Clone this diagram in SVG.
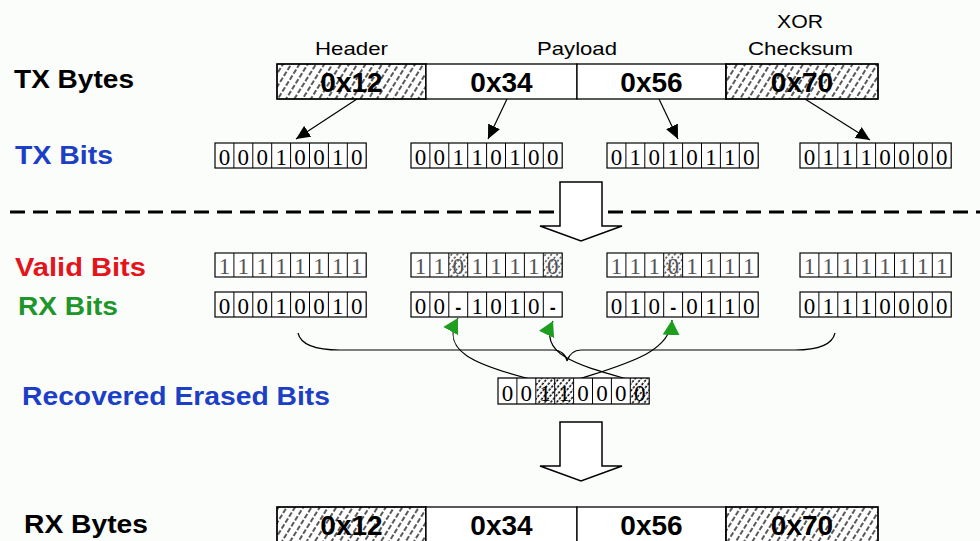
<svg xmlns="http://www.w3.org/2000/svg" xmlns:xlink="http://www.w3.org/1999/xlink" width="980" height="541" viewBox="0 0 980 541">
<style>
.lbl{font-family:"Liberation Sans",Arial,sans-serif;font-weight:bold;font-size:26px}
.hdr{font-family:"Liberation Sans",Arial,sans-serif;font-size:19px;fill:#000}
.byte{font-family:"Liberation Sans",Arial,sans-serif;font-weight:bold;font-size:28px;fill:#000;text-anchor:middle}
.bit{font-family:"Liberation Serif","Times New Roman",serif;font-size:23px;fill:#000;text-anchor:middle}
.vbit{font-family:"Liberation Serif","Times New Roman",serif;font-size:23px;fill:#555;text-anchor:middle}
.dash{font-family:"Liberation Sans",Arial,sans-serif;font-weight:bold;font-size:18px;fill:#000;text-anchor:middle}
.box{fill:#fff;stroke:#000;stroke-width:1.3}
.cellline{fill:none;stroke:#000;stroke-width:1}
.conn{fill:none;stroke:#000;stroke-width:1.2}
.blk{fill:#fff;stroke:#000;stroke-width:1.5}
</style>
<defs>
<pattern id="hatchByte" patternUnits="userSpaceOnUse" width="7" height="7" patternTransform="rotate(32)">
<line x1="1" y1="0" x2="1" y2="7" stroke="#000" stroke-width="1.3" stroke-dasharray="5 2"/>
</pattern>
<pattern id="hatchBit" patternUnits="userSpaceOnUse" width="4.5" height="4" patternTransform="rotate(40)">
<line x1="1" y1="0" x2="1" y2="4" stroke="#222" stroke-width="1.2" stroke-dasharray="2.2 1.8"/>
</pattern>
<pattern id="hatchRec" patternUnits="userSpaceOnUse" width="4.5" height="4" patternTransform="rotate(40)">
<line x1="1" y1="0" x2="1" y2="4" stroke="#000" stroke-width="1.5" stroke-dasharray="2.6 1.4"/>
</pattern>
<g id="c8">
<rect width="151.2" height="25" fill="none" stroke="#000" stroke-width="1.2"/>
<path class="cellline" d="M18.9 0v25M37.8 0v25M56.7 0v25M75.6 0v25M94.5 0v25M113.4 0v25M132.3 0v25"/>
</g>
<marker id="ah" markerUnits="userSpaceOnUse" markerWidth="15" markerHeight="13" refX="14" refY="6.5" orient="auto">
<path d="M0,0 L14,6.5 L0,13 z" fill="#000"/>
</marker>
<marker id="gh" markerUnits="userSpaceOnUse" markerWidth="16" markerHeight="17" refX="15" refY="8.5" orient="auto">
<path d="M0,0 L15,8.5 L0,17 z" fill="#1f9d1f"/>
</marker>
</defs>

<rect x="0" y="0" width="980" height="541" fill="#fbfdfb"/>

<g id="labels">
<text class="lbl" x="14" y="88" font-size="25" textLength="120" lengthAdjust="spacingAndGlyphs" fill="#000">TX Bytes</text>
<text class="lbl" x="15" y="164" font-size="24" textLength="98" lengthAdjust="spacingAndGlyphs" fill="#1c3fc6">TX Bits</text>
<text class="lbl" x="15" y="276" textLength="131" lengthAdjust="spacingAndGlyphs" fill="#e5141b">Valid Bits</text>
<text class="lbl" x="18" y="315" textLength="100" lengthAdjust="spacingAndGlyphs" fill="#1f962a">RX Bits</text>
<text class="lbl" x="22" y="405" textLength="308" lengthAdjust="spacingAndGlyphs" fill="#1c3fc6">Recovered Erased Bits</text>
<text class="lbl" x="24" y="533" font-size="25" textLength="124" lengthAdjust="spacingAndGlyphs" fill="#000">RX Bytes</text>
</g>

<g id="field-labels">
<text class="hdr" x="315" y="55" textLength="73" lengthAdjust="spacingAndGlyphs">Header</text>
<text class="hdr" x="537" y="55" textLength="80" lengthAdjust="spacingAndGlyphs">Payload</text>
<text class="hdr" x="777" y="28" textLength="46" lengthAdjust="spacingAndGlyphs">XOR</text>
<text class="hdr" x="748" y="55" textLength="105" lengthAdjust="spacingAndGlyphs">Checksum</text>
</g>

<g id="tx-bytes">
<rect class="box" x="277" y="64" width="149" height="35"/>
<rect x="277" y="64" width="149" height="35" fill="url(#hatchByte)" stroke="#000" stroke-width="1.3"/>
<rect class="box" x="426" y="64" width="151" height="35"/>
<rect class="box" x="577" y="64" width="149" height="35"/>
<rect class="box" x="726" y="64" width="152" height="35"/>
<rect x="726" y="64" width="152" height="35" fill="url(#hatchByte)" stroke="#000" stroke-width="1.3"/>
<text class="byte" x="351.5" y="92">0x12</text>
<text class="byte" x="501.5" y="92">0x34</text>
<text class="byte" x="651.5" y="92">0x56</text>
<text class="byte" x="802" y="92">0x70</text>
</g>

<g id="connectors">
<line class="conn" x1="357" y1="99" x2="296" y2="139" marker-end="url(#ah)"/>
<line class="conn" x1="507" y1="99" x2="488" y2="139" marker-end="url(#ah)"/>
<line class="conn" x1="659" y1="99" x2="678" y2="139" marker-end="url(#ah)"/>
<line class="conn" x1="805" y1="99" x2="870" y2="140" marker-end="url(#ah)"/>
<path class="conn" d="M298,333 C301,346 318,350 340,350 L553,350 C561,350 566,355 567,361 C569,355 573,350 581,350 L795,350 C815,350 832,346 835,333"/>
<path class="conn" d="M546,383 C470,365 440,350 458,318" marker-end="url(#gh)"/>
<path class="conn" d="M641,383 C590,368 535,358 553,321" marker-end="url(#gh)"/>
<path class="conn" d="M567,383 C620,365 670,355 672,320" marker-end="url(#gh)"/>
</g>

<g id="tx-bits">
<rect x="215" y="143" width="151.2" height="25" fill="#fff"/>
<rect x="411" y="143" width="151.2" height="25" fill="#fff"/>
<rect x="607" y="143" width="151.2" height="25" fill="#fff"/>
<rect x="800" y="143" width="151.2" height="25" fill="#fff"/>
<use xlink:href="#c8" x="215" y="143"/>
<use xlink:href="#c8" x="411" y="143"/>
<use xlink:href="#c8" x="607" y="143"/>
<use xlink:href="#c8" x="800" y="143"/>
<text class="bit" x="224.45 243.35 262.25 281.15 300.05 318.95 337.85 356.75" y="165">00010010</text>
<text class="bit" x="420.45 439.35 458.25 477.15 496.05 514.95 533.85 552.75" y="165">00110100</text>
<text class="bit" x="616.45 635.35 654.25 673.15 692.05 710.95 729.85 748.75" y="165">01010110</text>
<text class="bit" x="809.45 828.35 847.25 866.15 885.05 903.95 922.85 941.75" y="165">01110000</text>
</g>

<g id="divider">
<line x1="10" y1="212" x2="980" y2="212" stroke="#000" stroke-width="3" stroke-dasharray="15 8"/>
</g>

<g id="block-arrow-1">
<path class="blk" d="M560,182 H602 V226 H622 L581,241 L540,226 H560 Z"/>
</g>

<g id="valid-bits">
<rect x="215" y="253" width="151.2" height="24" fill="#fff"/>
<rect x="411" y="253" width="151.2" height="24" fill="#fff"/>
<rect x="607" y="253" width="151.2" height="24" fill="#fff"/>
<rect x="800" y="253" width="151.2" height="24" fill="#fff"/>
<rect x="448.8" y="253" width="18.9" height="24" fill="url(#hatchBit)"/>
<rect x="543.3" y="253" width="18.9" height="24" fill="url(#hatchBit)"/>
<rect x="663.7" y="253" width="18.9" height="24" fill="url(#hatchBit)"/>
<g transform="translate(0,253) scale(1,0.96) translate(0,-253)">
<use xlink:href="#c8" x="215" y="253"/>
<use xlink:href="#c8" x="411" y="253"/>
<use xlink:href="#c8" x="607" y="253"/>
<use xlink:href="#c8" x="800" y="253"/>
</g>
<text class="vbit" x="224.45 243.35 262.25 281.15 300.05 318.95 337.85 356.75" y="274">11111111</text>
<text class="vbit" x="420.45 439.35 458.25 477.15 496.05 514.95 533.85 552.75" y="274">11011110</text>
<text class="vbit" x="616.45 635.35 654.25 673.15 692.05 710.95 729.85 748.75" y="274">11101111</text>
<text class="vbit" x="809.45 828.35 847.25 866.15 885.05 903.95 922.85 941.75" y="274">11111111</text>
</g>

<g id="rx-bits">
<rect x="215" y="292" width="151.2" height="25" fill="#fff"/>
<rect x="411" y="292" width="151.2" height="25" fill="#fff"/>
<rect x="607" y="292" width="151.2" height="25" fill="#fff"/>
<rect x="800" y="292" width="151.2" height="25" fill="#fff"/>
<use xlink:href="#c8" x="215" y="292"/>
<use xlink:href="#c8" x="411" y="292"/>
<use xlink:href="#c8" x="607" y="292"/>
<use xlink:href="#c8" x="800" y="292"/>
<text class="bit" x="224.45 243.35 262.25 281.15 300.05 318.95 337.85 356.75" y="314">00010010</text>
<text class="bit" x="420.45 439.35" y="314">00</text>
<text class="dash" x="458.25" y="314">-</text>
<text class="bit" x="477.15 496.05 514.95 533.85" y="314">1010</text>
<text class="dash" x="552.75" y="314">-</text>
<text class="bit" x="616.45 635.35 654.25" y="314">010</text>
<text class="dash" x="673.15" y="314">-</text>
<text class="bit" x="692.05 710.95 729.85 748.75" y="314">0110</text>
<text class="bit" x="809.45 828.35 847.25 866.15 885.05 903.95 922.85 941.75" y="314">01110000</text>
</g>

<g id="recovered-bits">
<rect x="498" y="378" width="151.2" height="26" fill="#fff"/>
<rect x="535.8" y="378" width="37.8" height="26" fill="url(#hatchRec)"/>
<rect x="630.3" y="378" width="18.9" height="26" fill="url(#hatchRec)"/>
<g transform="translate(0,378) scale(1,1.04) translate(0,-378)">
<use xlink:href="#c8" x="498" y="378"/>
</g>
<text class="bit" x="507.45 526.35 545.25 564.15 583.05 601.95 620.85 639.75" y="401">00110000</text>
</g>

<g id="block-arrow-2">
<path class="blk" d="M560,422 H602 V466 H622 L581,481 L540,466 H560 Z"/>
</g>

<g id="rx-bytes">
<rect class="box" x="277" y="507" width="149" height="40"/>
<rect x="277" y="507" width="149" height="40" fill="url(#hatchByte)" stroke="#000" stroke-width="1.3"/>
<rect class="box" x="426" y="507" width="151" height="40"/>
<rect class="box" x="577" y="507" width="149" height="40"/>
<rect class="box" x="726" y="507" width="152" height="40"/>
<rect x="726" y="507" width="152" height="40" fill="url(#hatchByte)" stroke="#000" stroke-width="1.3"/>
<text class="byte" x="351.5" y="535">0x12</text>
<text class="byte" x="501.5" y="535">0x34</text>
<text class="byte" x="651.5" y="535">0x56</text>
<text class="byte" x="802" y="535">0x70</text>
</g>
</svg>
